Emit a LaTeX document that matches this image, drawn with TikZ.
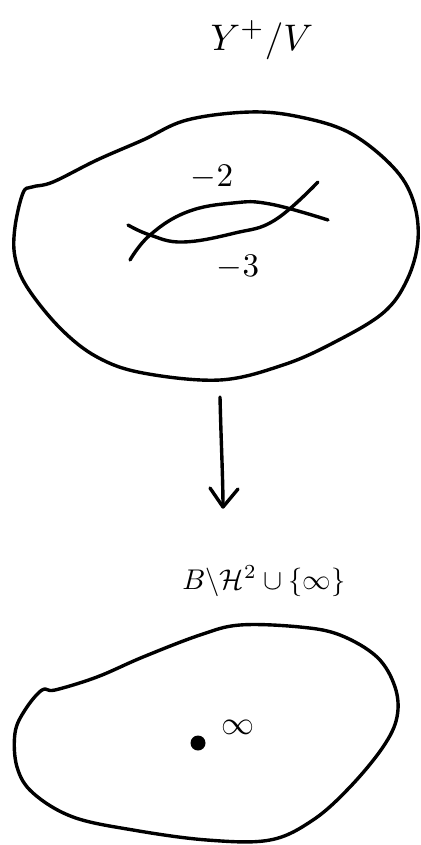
\documentclass[tikz,border=0pt]{standalone}
\usepackage{amssymb}
\begin{document}
\begin{tikzpicture}[x=1pt,y=-1pt,
  ink/.style={line width=3.4pt,line cap=round,line join=round},
  lbl/.style={inner sep=0pt,anchor=center}]
\useasboundingbox (0,0) rectangle (420,845);
% title
\node[lbl,scale=3.7] (title) at (262,40) {$Y^{+}/V$};
% upper blob
\draw[ink] plot[smooth cycle,tension=0.6] coordinates {
 (32,187) (53,182) (97,160) (143,140) (187,120) (250,112) (300,117) (350,133)
 (393,167) (413,200) (418,240) (407,280) (383,313) (333,343) (283,365)
 (220,380) (143,373) (97,357) (60,328) (27,287) (15,257) (15,227) (23,193)};
% inner curves
\draw[ink] plot[smooth,tension=0.7] coordinates {
 (128,225) (150,235) (183,242) (235,233) (275,220) (318,182)};
\draw[ink] plot[smooth,tension=0.7] coordinates {
 (130,260) (150,235) (187,212) (233,203) (270,204) (328,220)};
\node[lbl,scale=3.3] (m2) at (212,177) {$-2$};
\node[lbl,scale=3.3] (m3) at (238,267) {$-3$};
% arrow
\coordinate (atop) at (220,397);
\coordinate (atip) at (223,507);
\draw[ink] (atop) .. controls (221,440) and (223,480) .. (atip);
\draw[ink] (atip) -- ++(-13,-19);
\draw[ink] (atip) -- ++(15,-18);
% bottom label
\node[lbl,scale=2.85] (blabel) at (264,581) {$B\backslash\mathcal{H}^2\cup\{\infty\}$};
% lower blob
\draw[ink] plot[smooth cycle,tension=0.6] coordinates {
 (42,690) (55,690) (97,677) (143,657) (200,635) (240,625) (300,627) (340,635)
 (377,657) (395,687) (397,717) (383,747) (350,787) (313,820) (270,840)
 (207,840) (133,830) (73,817) (33,793) (17,767) (15,733) (25,710)};
\fill (198,743) circle (7.5pt) node (dot) {};
\node[lbl,scale=3.3] (inf) at (238,727) {$\infty$};
\end{tikzpicture}
\end{document}
